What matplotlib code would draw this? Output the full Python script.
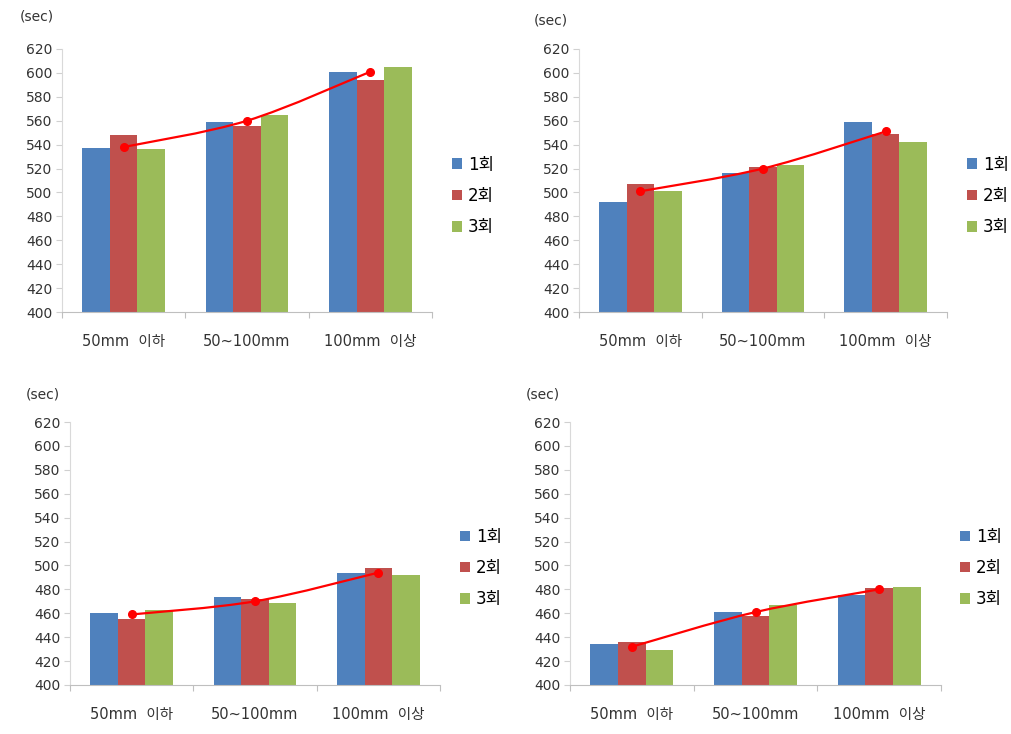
import numpy as np
import matplotlib
matplotlib.use("Agg")
import matplotlib.pyplot as plt
from matplotlib.path import Path
from matplotlib.patches import PathPatch, Patch

plt.rcParams['font.family'] = ['DejaVu Sans', 'Noto Sans CJK KR']

categories = ['50mm  이하', '50~100mm', '100mm  이상']
series_names = ['1회', '2회', '3회']
yticks = list(range(400, 621, 20))

# panel values: series 1회 / 2회 / 3회 across the three categories
tl_r1 = [537, 559, 601]
tl_r2 = [548, 556, 594]
tl_r3 = [536, 565, 605]
tl_line = [538, 560, 601]

tr_r1 = [492, 516, 559]
tr_r2 = [507, 521, 549]
tr_r3 = [501, 523, 542]
tr_line = [501, 520, 551]

bl_r1 = [460, 474, 494]
bl_r2 = [455, 472, 498]
bl_r3 = [463, 469, 492]
bl_line = [459, 470, 494]

br_r1 = [434, 461, 475]
br_r2 = [436, 458, 481]
br_r3 = [429, 467, 482]
br_line = [432, 461, 480]

colors = ['#4F81BD', '#C0504D', '#9BBB59']
W, H = 1011, 734

fig = plt.figure(figsize=(W / 100, H / 100), dpi=100)


def rect(x0, y0, x1, y1):
    return [x0 / W, 1 - y1 / H, (x1 - x0) / W, (y1 - y0) / H]


def smooth_path(xs, ys):
    P = list(zip(xs, ys))
    n = len(P)
    verts = [P[0]]
    codes = [Path.MOVETO]
    for i in range(n - 1):
        p0 = np.array(P[i - 1] if i > 0 else P[i])
        p1 = np.array(P[i])
        p2 = np.array(P[i + 1])
        p3 = np.array(P[i + 2] if i + 2 < n else P[i + 1])
        c1 = p1 + (p2 - p0) / 6.0
        c2 = p2 - (p3 - p1) / 6.0
        verts += [tuple(c1), tuple(c2), tuple(p2)]
        codes += [Path.CURVE4] * 3
    return Path(verts, codes)


def panel(r, vals, line, sec_xy, leg_xy):
    ax = fig.add_axes(rect(*r))
    x = np.arange(len(categories))
    w = 0.224
    for k, (v, c) in enumerate(zip(vals, colors)):
        ax.bar(x + (k - 1) * w, np.array(v) - 400, bottom=400, width=w,
               color=c, zorder=2, label=series_names[k])
    pp = PathPatch(smooth_path(x, line), fill=False, edgecolor='#FF0000',
                   lw=1.6, zorder=3)
    ax.add_patch(pp)
    ax.plot(x, line, linestyle='none', marker='o', ms=5.5,
            color='#FF0000', zorder=4)
    ax.set_xlim(-0.5, 2.5)
    ax.set_ylim(400, 620)
    ax.set_yticks(yticks)
    ax.set_yticklabels([str(t) for t in yticks], fontsize=10, color='#333333')
    ax.set_xticks([-0.5, 0.5, 1.5, 2.5])
    ax.set_xticklabels([])
    ax.set_xticks(x, minor=True)
    ax.set_xticklabels(categories, minor=True, fontsize=10.5, color='#333333')
    ax.tick_params(axis='x', which='major', length=4, color='#BFBFBF',
                   direction='out')
    ax.tick_params(axis='x', which='minor', length=0, pad=16)
    ax.tick_params(axis='y', length=4, color='#D0D0D0', pad=3)
    for s in ['top', 'right']:
        ax.spines[s].set_visible(False)
    ax.spines['left'].set_color('#D9D9D9')
    ax.spines['bottom'].set_color('#BFBFBF')
    fig.text(sec_xy[0] / W, 1 - sec_xy[1] / H, '(sec)', fontsize=10,
             color='#333333', ha='left', va='center')
    handles = [Patch(facecolor=c) for c in colors]
    fig.legend(handles, series_names, loc='center left',
               bbox_to_anchor=(leg_xy[0] / W, 1 - leg_xy[1] / H),
               bbox_transform=fig.transFigure, frameon=False,
               handlelength=0.6, handleheight=0.6, handletextpad=0.35,
               labelspacing=0.8, borderpad=0, borderaxespad=0,
               prop={'size': 12})
    return ax


panel((62, 49, 432, 312), [tl_r1, tl_r2, tl_r3], tl_line, (20, 17), (452, 196))
panel((579, 49, 947, 312), [tr_r1, tr_r2, tr_r3], tr_line, (534, 21), (967, 196))
panel((70, 422, 440, 685), [bl_r1, bl_r2, bl_r3], bl_line, (26, 394), (460, 568))
panel((570, 422, 941, 685), [br_r1, br_r2, br_r3], br_line, (526, 394), (960, 568))

fig.savefig('out.png', dpi=100, facecolor='white')
